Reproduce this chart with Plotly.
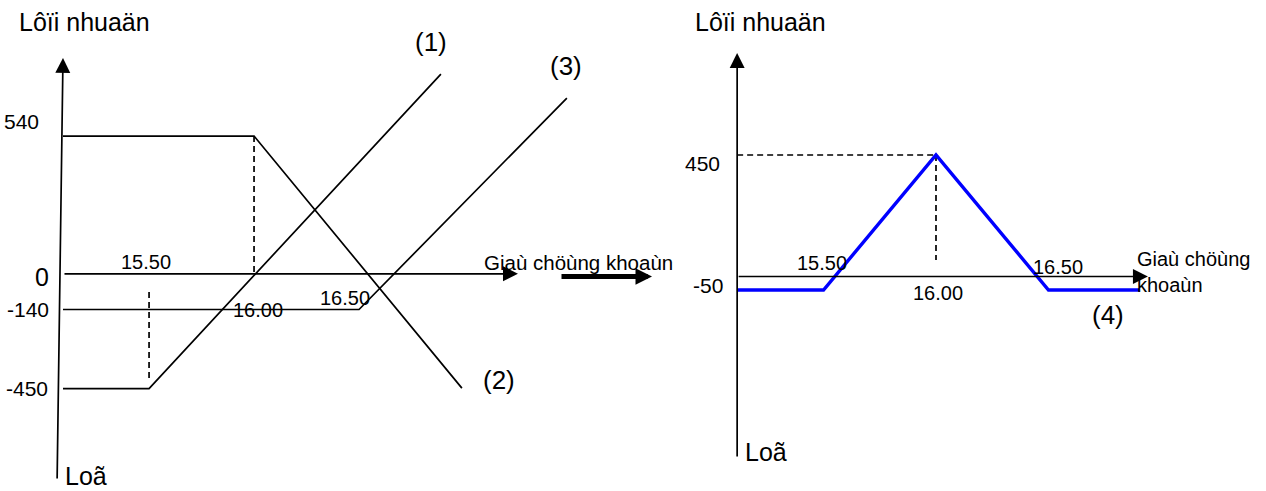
import plotly.graph_objects as go

# ---------------- data ----------------
# Left panel: the three component positions
strike_labels = ["15.50", "16.00", "16.50"]
strikes = [15.50, 16.00, 16.50]
left_ticks = [540, 0, -140, -450]
left_tick_labels = ["540", "0", "-140", "-450"]

left_axis_x = [15.062, 15.090]      # bottom, top of the drawn profit axis
left_axis_y = [-808, 846]
left_price_end = 17.257             # tip of the price axis arrow

line1_x = [15.09, 15.50, 16.89]
line1_y = [-450, -450, 783]
line2_x = [15.09, 16.00, 16.99]
line2_y = [540, 540, -448]
line3_x = [15.09, 16.50, 17.49]
line3_y = [-140, -140, 689]
line_names = ["(1)", "(2)", "(3)"]

# Right panel: combined position (4)
right_ticks = [450, -50]
right_tick_labels = ["450", "-50"]
right_axis_x = 15.116
right_axis_y = [-672, 828]
right_price_end = 16.942

line4_x = [15.116, 15.50, 16.00, 16.50, 16.907]
line4_y = [-50, -50, 450, -50, -50]

y_title = "Lôïi nhuaän"
x_title = "Giaù chöùng khoaùn"
x_title_wrapped = "Giaù chöùng<br>khoaùn"
loss_label = "Loã"

# ---------------- styling ----------------
FONT = "Liberation Sans, Arial, sans-serif"
BLACK = "#000000"
BLUE = "#0000FF"

fig = go.Figure()

def line(xs, ys, xa, ya, color=BLACK, width=1.7, dash="solid"):
    fig.add_trace(go.Scatter(x=xs, y=ys, mode="lines", xaxis=xa, yaxis=ya,
                             line=dict(color=color, width=width, dash=dash),
                             hoverinfo="skip", showlegend=False))

# left payoff lines
line(line1_x, line1_y, "x", "y")
line(line2_x, line2_y, "x", "y")
line(line3_x, line3_y, "x", "y")
# left dashed guides
line([strikes[0], strikes[0]], [-71, -420], "x", "y", dash="6px,4px")
line([strikes[1], strikes[1]], [left_ticks[0], 0], "x", "y", dash="6px,4px")

# right dashed guides
line([right_axis_x, strikes[1]], [right_ticks[0], right_ticks[0]], "x2", "y2", dash="6px,4px")
line([strikes[1], strikes[1]], [right_ticks[0], 61], "x2", "y2", dash="6px,4px")
# right payoff line
line(line4_x, line4_y, "x2", "y2", color=BLUE, width=3.4)

ann = []

def arrow(x, y, ax, ay, xr, yr, width=1.7, size=1.76):
    ann.append(dict(x=x, y=y, ax=ax, ay=ay, xref=xr, yref=yr, axref=xr, ayref=yr,
                    text="", showarrow=True, arrowhead=2, arrowsize=size,
                    arrowwidth=width, arrowcolor=BLACK, standoff=0, startstandoff=0))

def label(text, x, y, xr, yr, dx=0, dy=0, size=20, xanchor="center", yanchor="middle", align="center"):
    ann.append(dict(x=x, y=y, xref=xr, yref=yr, text=text, showarrow=False,
                    xanchor=xanchor, yanchor=yanchor, xshift=dx, yshift=dy, align=align,
                    font=dict(family=FONT, size=size, color=BLACK)))

# ---- left axes
arrow(left_axis_x[1], left_axis_y[1], left_axis_x[0], left_axis_y[0], "x", "y")
arrow(left_price_end, 0, left_axis_x[1], 0, "x", "y")
# ---- right axes
arrow(right_axis_x, right_axis_y[1], right_axis_x, right_axis_y[0], "x2", "y2")
arrow(right_price_end, 0, right_axis_x, 0, "x2", "y2")

# ---- big arrow between the panels
ann.append(dict(x=652 / 1266, y=0, xref="paper", yref="y2", ax=-92, ay=0,
                axref="pixel", ayref="pixel", text="", showarrow=True, arrowhead=2,
                arrowsize=0.66, arrowwidth=5, arrowcolor=BLACK, standoff=0))

# ---- left labels
label(y_title, left_axis_x[1], left_axis_y[1], "x", "y", dx=-46, dy=36, size=25, xanchor="left")
label(loss_label, left_axis_x[0], left_axis_y[0], "x", "y", dx=6, dy=4, size=25, xanchor="left")
tick_dx = [-22, -12, -12, -13]
tick_dy = [15, -3, 0, 0]
tick_sz = [21, 25, 21, 21]
for v, t, dx, dy, sz in zip(left_ticks, left_tick_labels, tick_dx, tick_dy, tick_sz):
    label(t, left_axis_x[1], v, "x", "y", dx=dx, dy=dy, size=sz, xanchor="right")
label(strike_labels[0], strikes[0], 0, "x", "y", dx=-3, dy=12)
label(strike_labels[1], strikes[1], -140, "x", "y", dx=4, dy=0)
label(strike_labels[2], strikes[2], -140, "x", "y", dx=-14, dy=12)
label(x_title, left_price_end, 0, "x", "y", dx=-36, dy=11, size=20.5, xanchor="left")
label(line_names[0], line1_x[-1], line1_y[-1], "x", "y", dx=-10, dy=32, size=26)
label(line_names[1], line2_x[-1], line2_y[-1], "x", "y", dx=37, dy=8, size=26)
label(line_names[2], line3_x[-1], line3_y[-1], "x", "y", dx=-1, dy=32, size=26)

# ---- right labels
label(y_title, right_axis_x, right_axis_y[1], "x2", "y2", dx=-44, dy=31, size=25, xanchor="left")
label(loss_label, right_axis_x, right_axis_y[0], "x2", "y2", dx=6, dy=6, size=25, xanchor="left")
label(right_tick_labels[0], right_axis_x, right_ticks[0], "x2", "y2", dx=-15, dy=-8, size=21, xanchor="right")
label(right_tick_labels[1], right_axis_x, right_ticks[1], "x2", "y2", dx=-12, dy=5, size=21, xanchor="right")
label(strike_labels[0], strikes[0], 0, "x2", "y2", dx=-2, dy=14)
label(strike_labels[1], strikes[1], 0, "x2", "y2", dx=2, dy=-16)
label(strike_labels[2], strikes[2], 0, "x2", "y2", dx=10, dy=10)
label(x_title_wrapped, right_price_end, 0, "x2", "y2", dx=-13, dy=5, size=20,
      xanchor="left", align="left")
label("(4)", line4_x[-1], line4_y[-1], "x2", "y2", dx=-32, dy=-25, size=26)

hidden = dict(visible=False, showgrid=False, zeroline=False, fixedrange=True)
fig.update_layout(
    width=1266, height=491,
    margin=dict(l=0, r=0, t=0, b=0),
    paper_bgcolor="white", plot_bgcolor="white",
    showlegend=False,
    xaxis=dict(domain=[0, 0.5], range=[14.790, 17.805], anchor="y", **hidden),
    yaxis=dict(domain=[0, 1], range=[-851.4, 1073.3], anchor="x", **hidden),
    xaxis2=dict(domain=[0.5, 1], range=[14.653, 17.467], anchor="y2", **hidden),
    yaxis2=dict(domain=[0, 1], range=[-794.4, 1024.1], anchor="x2", **hidden),
    annotations=ann,
)

fig.write_html("out.html", config={"displayModeBar": False},
               post_script="document.body.style.margin='0';")
